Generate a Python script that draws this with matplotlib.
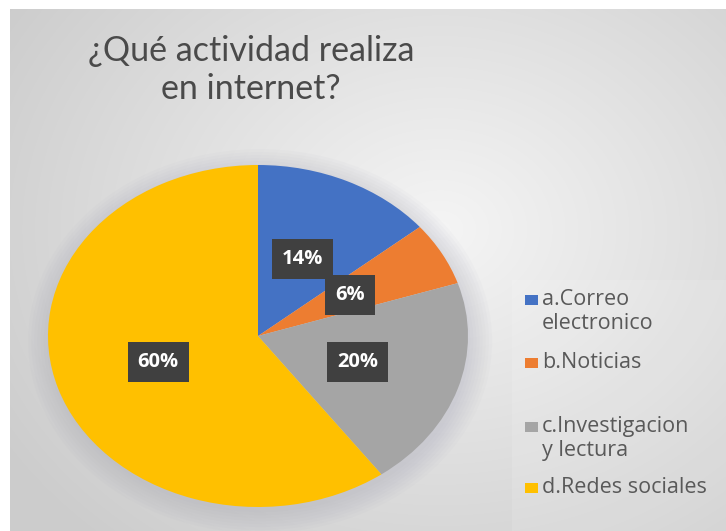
import numpy as np
import matplotlib.pyplot as plt
from matplotlib.patches import Rectangle, Ellipse

# Datos de la encuesta
categorias = ['a.Correo\nelectronico', 'b.Noticias', 'c.Investigacion\ny lectura', 'd.Redes sociales']
porcentajes = [14, 6, 20, 60]
colores = ['#4472C4', '#ED7D31', '#A5A5A5', '#FFC000']
titulo = '¿Qué actividad realiza\nen internet?'

W, H = 726, 531
fig = plt.figure(figsize=(W / 100, H / 100), dpi=100)
fig.patch.set_facecolor('white')

# fondo con degradado radial (marco del grafico)
bg = fig.add_axes([10 / W, 0, 1 - 10 / W, 1 - 9 / H])
yy, xx = np.mgrid[0:522, 0:716]
d = np.sqrt(((xx - 430) / 520.0) ** 2 + ((yy - 220) / 420.0) ** 2)
val = np.clip(0.96 - 0.16 * d, 0.80, 0.96)
img = np.dstack([val, val, val])
bg.imshow(img, aspect='auto', interpolation='bilinear')
bg.set_axis_off()

# caja de la leyenda, apenas mas clara
fig.patches.append(Rectangle((512 / W, 0), (W - 512) / W, (H - 280) / H,
                             transform=fig.transFigure, facecolor='white',
                             alpha=0.12, edgecolor='none'))

fig.text(251 / W, 1 - 70 / H, titulo, ha='center', va='center',
         fontsize=24.5, color='#4a4a4a', family='Lato', linespacing=1.2)

# torta eliptica
cx, cy, rx, ry = 258, 336, 210, 171
ax = fig.add_axes([(cx - rx) / W, (H - cy - ry) / H, 2 * rx / W, 2 * ry / H])

# sombra suave alrededor de la torta
for k in range(8):
    ax.add_patch(Ellipse((0.01, -0.03), 2 + 0.03 * k, 2 + 0.035 * k,
                         facecolor='#9a9aae', alpha=0.04, edgecolor='none',
                         zorder=0, clip_on=False))

wedges, _, autotexts = ax.pie(
    porcentajes, colors=colores, startangle=90, counterclock=False,
    autopct=lambda p: '{:.0f}%'.format(p), pctdistance=0.5,
    wedgeprops=dict(linewidth=0),
    textprops=dict(color='white', fontsize=14.5, fontweight='bold', family='Open Sans'))
for t in autotexts:
    t.set_bbox(dict(boxstyle='square,pad=0.5', facecolor='#404040', edgecolor='none'))
ax.set_aspect('auto')
ax.set_xlim(-1, 1)
ax.set_ylim(-1, 1)
ax.set_axis_off()

# leyenda a la derecha
leg_y = [300, 363, 427, 488]
for etiqueta, col, y in zip(categorias, colores, leg_y):
    fig.patches.append(Rectangle((525 / W, 1 - (y + 5) / H), 13 / W, 10 / H,
                                 transform=fig.transFigure, facecolor=col, edgecolor='none'))
    fig.text(542 / W, 1 - (y - 11) / H, etiqueta, ha='left', va='top', fontsize=15.5,
             color='#595959', family='Open Sans', linespacing=1.2)

fig.savefig('out.png', dpi=100)
